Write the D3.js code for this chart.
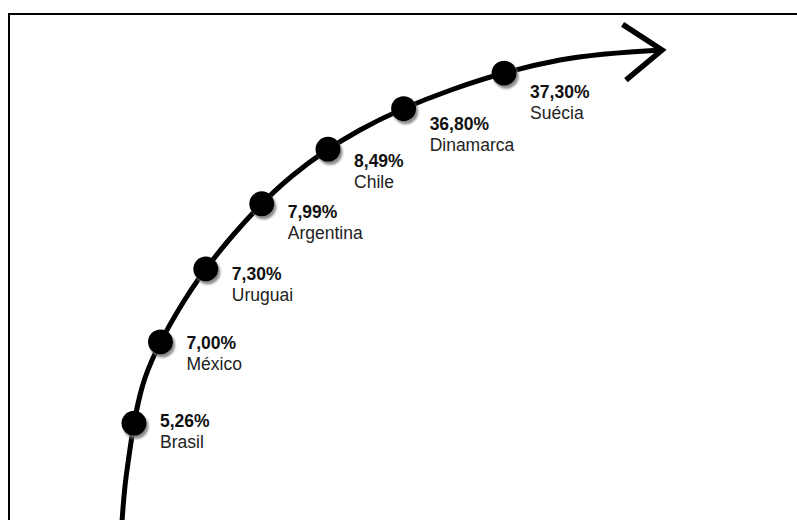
<!DOCTYPE html>
<html>
<head>
<meta charset="utf-8">
<script src="https://cdn.jsdelivr.net/npm/d3@7"></script>
<style>
  body { margin: 0; background: #fff; }
  svg { display: block; }
</style>
</head>
<body>
<div id="chart"></div>
<script>
// countries in order along the curve and their shares
const countries = ['Brasil', 'México', 'Uruguai', 'Argentina', 'Chile', 'Dinamarca', 'Suécia'];
const values = [5.26, 7.00, 7.30, 7.99, 8.49, 36.80, 37.30];

// guide points for the shape of the rising curve
const arcGuide = [[122, 522], [127, 470], [145, 378], [184, 301], [234, 234], [292, 176], [360, 130], [451, 90], [560, 60], [662, 50]];

const width = 797;
const height = 520;
const fmt = (v) => d3.format('.2f')(v).replace('.', ',') + '%';

const svg = d3.select('#chart').append('svg').attr('width', width).attr('height', height);

const shadow = svg.append('defs').append('filter').attr('id', 'shadow')
  .attr('x', '-50%').attr('y', '-50%').attr('width', '200%').attr('height', '200%');
shadow.append('feDropShadow').attr('dx', 2).attr('dy', 3).attr('stdDeviation', 1.2)
  .attr('flood-color', '#777').attr('flood-opacity', 0.85);

// frame
svg.append('rect').attr('x', 9).attr('y', 14).attr('width', width).attr('height', height)
  .attr('fill', 'none').attr('stroke', '#000').attr('stroke-width', 2);

const line = d3.line().curve(d3.curveCatmullRom.alpha(0.5));
const path = svg.append('path').attr('d', line(arcGuide))
  .attr('fill', 'none').attr('stroke', '#000').attr('stroke-width', 5);

const node = path.node();
const total = node.getTotalLength();

// arrow head, built from the tangent at the end of the curve
const tip = node.getPointAtLength(total);
const back = node.getPointAtLength(total - 10);
const ang = Math.atan2(back.y - tip.y, back.x - tip.x);
const arm = 47;
const spread = 36.5 * Math.PI / 180;
const head = [
  [tip.x + arm * Math.cos(ang + spread), tip.y + arm * Math.sin(ang + spread)],
  [tip.x, tip.y],
  [tip.x + arm * Math.cos(ang - spread), tip.y + arm * Math.sin(ang - spread)],
];
svg.append('path').attr('d', d3.line()(head))
  .attr('fill', 'none').attr('stroke', '#000').attr('stroke-width', 5.5)
  .attr('stroke-linejoin', 'miter');

// points along the curve (last step is a bit wider)
const along = d3.scaleLinear().domain([0, 5, 6]).range([0.125 * total, 0.665 * total, 0.799 * total]);
const labelDy = d3.scaleLinear().domain([0, countries.length - 1]).range([4, 25]);

const pts = countries.map((c, i) => {
  const p = node.getPointAtLength(along(i));
  return { name: c, value: values[i], x: p.x, y: p.y, i };
});

svg.append('g').selectAll('circle').data(pts).join('circle')
  .attr('cx', (d) => d.x).attr('cy', (d) => d.y).attr('r', 12.5)
  .attr('fill', '#000').attr('filter', 'url(#shadow)');

const labels = svg.append('g').attr('font-family', 'Liberation Sans, Arial, sans-serif')
  .attr('font-size', 17.5);

labels.selectAll('text.val').data(pts).join('text').attr('class', 'val')
  .attr('x', (d) => d.x + 26).attr('y', (d) => d.y + labelDy(d.i))
  .attr('font-weight', 700).attr('fill', '#111').text((d) => fmt(d.value));

labels.selectAll('text.name').data(pts).join('text').attr('class', 'name')
  .attr('x', (d) => d.x + 26).attr('y', (d) => d.y + labelDy(d.i) + 21)
  .attr('fill', '#222').text((d) => d.name);
</script>
</body>
</html>
